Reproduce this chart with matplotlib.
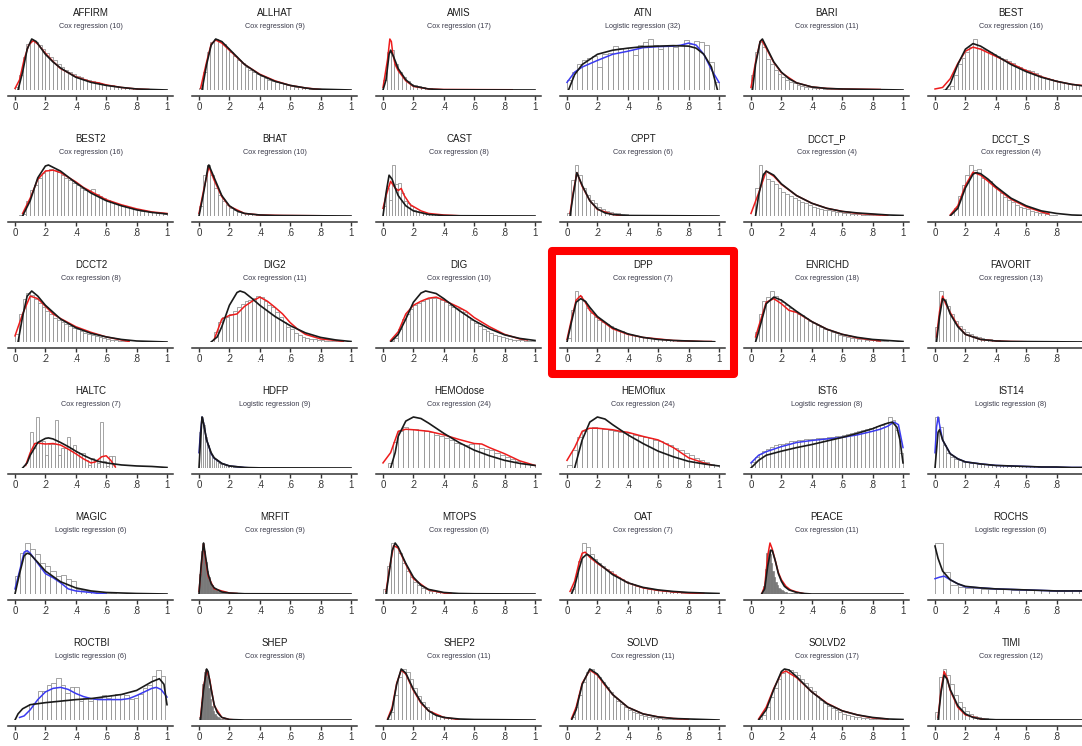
import matplotlib.pyplot as plt
from matplotlib.patches import Rectangle

plt.rcParams['font.family'] = ['Liberation Sans', 'DejaVu Sans']

# ---- data: histogram heights (0-100 of panel max) and curve knots (x, height) ----
AFFIRM_bars = [5, 30, 65, 90, 97, 95, 88, 80, 72, 65, 58, 50, 45, 40, 35, 31, 28, 25, 22, 20,
               18, 16, 14, 12, 10, 9, 7, 6, 5, 4, 3, 3, 2, 2, 2, 1, 1, 0, 0, 0]
AFFIRM_black = [(0.02, 0), (0.05, 35), (0.08, 80), (0.11, 100), (0.14, 95), (0.2, 70), (0.25, 55),
                (0.3, 43), (0.4, 25), (0.5, 15), (0.6, 9), (0.7, 5), (0.8, 2), (0.9, 1), (1.0, 0)]
AFFIRM_fit = [(0.0, 3), (0.03, 20), (0.06, 60), (0.09, 88), (0.12, 97), (0.15, 90), (0.2, 72),
              (0.25, 56), (0.3, 42), (0.4, 26), (0.5, 16), (0.55, 14), (0.6, 10), (0.7, 5),
              (0.8, 2), (0.88, 1)]

ALLHAT_bars = [3, 35, 75, 95, 100, 96, 90, 82, 74, 66, 58, 52, 46, 40, 35, 31, 27, 23, 20, 17,
               15, 13, 11, 9, 7, 6, 5, 4, 3, 2, 2, 1]
ALLHAT_black = [(0.02, 0), (0.05, 50), (0.08, 88), (0.11, 100), (0.15, 95), (0.2, 80), (0.3, 50),
                (0.4, 30), (0.5, 17), (0.6, 9), (0.7, 4), (0.75, 2), (1.0, 0)]
ALLHAT_fit = [(0.01, 3), (0.05, 55), (0.08, 90), (0.11, 98), (0.15, 92), (0.2, 78), (0.3, 50),
              (0.4, 31), (0.5, 18), (0.6, 9), (0.7, 4), (0.8, 1)]

AMIS_bars = [20, 75, 78, 50, 35, 25, 17, 12, 9, 7, 5, 4, 3, 2, 2, 1, 1]
AMIS_black = [(0.0, 0), (0.02, 20), (0.04, 70), (0.05, 78), (0.07, 65), (0.1, 42), (0.15, 20),
              (0.2, 8), (0.3, 2), (0.4, 0.5), (1.0, 0)]
AMIS_fit = [(0.0, 5), (0.03, 60), (0.045, 100), (0.055, 95), (0.065, 70), (0.08, 50), (0.1, 38),
            (0.15, 18), (0.2, 7), (0.3, 2), (0.4, 1), (0.85, 0.5)]

ATN_bars = [20, 35, 50, 58, 62, 66, 45, 70, 72, 86, 83, 82, 78, 68, 88, 95, 100, 88, 80, 86,
            86, 84, 88, 98, 90, 96, 94, 88, 55, 15]
ATN_black = [(0.01, 0), (0.05, 30), (0.1, 50), (0.2, 70), (0.3, 78), (0.4, 82), (0.5, 85),
             (0.6, 86), (0.7, 87), (0.8, 86), (0.85, 82), (0.9, 70), (0.95, 45), (0.99, 0)]
ATN_fit = [(0.0, 15), (0.05, 35), (0.1, 45), (0.2, 58), (0.3, 70), (0.4, 76), (0.5, 83),
           (0.6, 85), (0.7, 86), (0.75, 88), (0.8, 92), (0.85, 88), (0.9, 70), (0.95, 40), (1.0, 15)]

BARI_bars = [30, 75, 95, 85, 60, 50, 40, 32, 25, 20, 15, 13, 10, 8, 6, 5, 4, 3, 3, 2, 2, 2, 1, 1]
BARI_black = [(0.01, 0), (0.03, 50), (0.06, 95), (0.075, 100), (0.1, 85), (0.15, 55), (0.2, 35),
              (0.25, 22), (0.3, 14), (0.4, 6), (0.5, 3), (0.6, 2), (0.8, 1), (1.0, 0)]
BARI_fit = [(0.0, 5), (0.03, 55), (0.06, 95), (0.07, 98), (0.1, 82), (0.15, 54), (0.2, 34),
            (0.3, 14), (0.4, 6), (0.5, 3), (0.6, 2), (0.85, 1)]

BEST_bars = [0, 0, 1, 2, 8, 30, 50, 62, 75, 85, 100, 82, 80, 78, 74, 70, 66, 63, 60, 56,
             52, 48, 45, 42, 40, 38, 34, 30, 26, 24, 21, 20, 18, 15, 14, 12, 11, 10, 9, 8]
BEST_black = [(0.07, 0), (0.1, 12), (0.15, 50), (0.2, 80), (0.25, 91), (0.3, 86), (0.4, 68),
              (0.5, 50), (0.6, 36), (0.7, 25), (0.8, 17), (0.9, 11), (1.0, 7)]
BEST_fit = [(0.0, 2), (0.05, 5), (0.1, 22), (0.15, 52), (0.2, 76), (0.25, 84), (0.3, 80),
            (0.4, 66), (0.5, 52), (0.6, 38), (0.7, 26), (0.8, 17), (0.9, 11), (1.0, 8)]

BEST2_bars = [0, 1, 3, 30, 50, 60, 75, 85, 90, 92, 90, 86, 80, 75, 70, 65, 60, 55, 50, 50,
              53, 44, 40, 36, 32, 28, 25, 22, 20, 18, 16, 14, 12, 10, 9, 8, 7, 6, 5, 4]
BEST2_black = [(0.05, 0), (0.1, 30), (0.15, 75), (0.2, 98), (0.22, 100), (0.3, 88), (0.4, 65),
               (0.5, 45), (0.6, 30), (0.7, 20), (0.8, 12), (0.9, 7), (1.0, 4)]
BEST2_fit = [(0.05, 5), (0.1, 35), (0.15, 72), (0.2, 88), (0.25, 90), (0.3, 85), (0.4, 67),
             (0.45, 56), (0.5, 48), (0.6, 32), (0.7, 22), (0.8, 14), (0.9, 8), (1.0, 5)]

BHAT_bars = [20, 80, 100, 80, 55, 42, 30, 22, 15, 11, 8, 6, 5, 4, 3, 2, 2, 1, 1, 1]
BHAT_black = [(0.0, 0), (0.03, 45), (0.06, 98), (0.065, 100), (0.1, 75), (0.15, 40), (0.2, 20),
              (0.25, 10), (0.3, 5), (0.4, 2), (0.5, 1), (1.0, 0)]
BHAT_fit = [(0.0, 5), (0.03, 50), (0.065, 97), (0.1, 70), (0.15, 38), (0.2, 19), (0.3, 5),
            (0.4, 2), (0.55, 1), (0.8, 0.5)]

CAST_bars = [20, 55, 32, 100, 62, 65, 45, 30, 25, 20, 12, 10, 8, 6, 5, 4, 3, 3, 2, 2, 1, 1, 1,
             1, 1, 1, 1]
CAST_black = [(0.0, 0), (0.02, 45), (0.04, 80), (0.06, 72), (0.08, 55), (0.1, 40), (0.15, 20),
              (0.2, 10), (0.3, 3), (0.4, 1), (0.5, 0.5), (1.0, 0)]
CAST_fit = [(0.0, 15), (0.02, 40), (0.05, 68), (0.08, 55), (0.1, 50), (0.12, 54), (0.14, 40),
            (0.18, 22), (0.25, 10), (0.3, 5), (0.4, 2), (0.54, 0)]

CPPT_bars = [5, 70, 100, 80, 55, 42, 32, 25, 18, 14, 10, 8, 6, 5, 4, 3, 2, 2, 1, 1]
CPPT_black = [(0.02, 0), (0.04, 40), (0.065, 85), (0.1, 60), (0.15, 30), (0.2, 14), (0.25, 6),
              (0.3, 3), (0.4, 1), (1.0, 0)]
CPPT_fit = [(0.02, 5), (0.04, 45), (0.065, 85), (0.1, 58), (0.15, 30), (0.2, 13), (0.3, 3),
            (0.37, 0)]

DCCT_P_bars = [0, 55, 100, 85, 72, 68, 62, 55, 48, 44, 40, 35, 32, 28, 25, 22, 18, 16, 14, 12,
               11, 9, 8, 7, 6, 5, 4, 3, 3, 2, 2, 2, 1, 1]
DCCT_P_black = [(0.03, 0), (0.05, 40), (0.08, 80), (0.1, 88), (0.15, 80), (0.2, 63), (0.3, 40),
                (0.4, 25), (0.5, 15), (0.6, 9), (0.7, 6), (0.8, 4), (0.9, 2), (1.0, 1)]
DCCT_P_fit = [(0.0, 5), (0.05, 45), (0.1, 88), (0.15, 78), (0.2, 62), (0.3, 40), (0.4, 25),
              (0.5, 15), (0.6, 9), (0.7, 5), (0.8, 3), (0.9, 1)]

DCCT_S_bars = [0, 0, 0, 0, 0, 15, 40, 60, 80, 100, 90, 92, 75, 72, 68, 58, 52, 45, 38, 32,
               28, 22, 18, 15, 14, 10, 8, 6, 5, 3, 2, 2]
DCCT_S_black = [(0.1, 0), (0.15, 15), (0.2, 55), (0.25, 82), (0.27, 85), (0.3, 83), (0.35, 72),
                (0.4, 58), (0.5, 35), (0.6, 20), (0.7, 10), (0.8, 5), (0.9, 2), (1.0, 1)]
DCCT_S_fit = [(0.1, 2), (0.15, 20), (0.2, 60), (0.25, 86), (0.3, 80), (0.35, 68), (0.4, 55),
              (0.5, 33), (0.6, 18), (0.7, 8), (0.75, 4)]

DCCT2_bars = [15, 55, 85, 97, 92, 85, 76, 68, 60, 54, 48, 44, 40, 35, 31, 28, 25, 21, 18, 15,
              13, 11, 9, 7, 5, 4, 3, 2, 2, 1]
DCCT2_black = [(0.02, 0), (0.05, 50), (0.08, 90), (0.11, 100), (0.15, 90), (0.2, 72), (0.3, 45),
               (0.4, 28), (0.5, 17), (0.6, 10), (0.7, 5), (0.8, 2), (0.9, 1), (1.0, 0)]
DCCT2_fit = [(0.0, 12), (0.05, 55), (0.1, 90), (0.15, 85), (0.2, 70), (0.25, 55), (0.3, 46),
             (0.4, 30), (0.5, 19), (0.6, 10), (0.7, 4), (0.75, 1)]

DIG2_bars = [0, 0, 0, 0, 20, 40, 50, 50, 55, 60, 68, 75, 80, 82, 87, 90, 88, 80, 72, 68,
             58, 50, 40, 30, 25, 18, 14, 10, 8, 6, 5, 4, 3, 2, 2, 1, 1, 1]
DIG2_black = [(0.08, 0), (0.12, 10), (0.15, 30), (0.2, 72), (0.25, 97), (0.27, 100), (0.3, 97),
              (0.35, 85), (0.4, 72), (0.5, 50), (0.6, 32), (0.7, 18), (0.8, 9), (0.9, 4), (1.0, 1)]
DIG2_fit = [(0.1, 5), (0.15, 45), (0.2, 52), (0.25, 55), (0.3, 70), (0.35, 80), (0.4, 88),
            (0.45, 80), (0.5, 68), (0.55, 55), (0.6, 38), (0.65, 25), (0.7, 15), (0.8, 6),
            (0.9, 3), (0.95, 1)]

DIG_bars = [0, 0, 2, 8, 25, 45, 55, 65, 72, 76, 80, 84, 86, 87, 86, 83, 78, 73, 68, 66,
            64, 58, 50, 44, 38, 32, 26, 22, 18, 14, 11, 9, 7, 5, 4, 3, 3, 2, 2, 1]
DIG_black = [(0.05, 0), (0.1, 15), (0.15, 45), (0.2, 78), (0.25, 96), (0.28, 100), (0.35, 95),
             (0.4, 85), (0.5, 62), (0.6, 42), (0.7, 26), (0.8, 14), (0.9, 7), (1.0, 3)]
DIG_fit = [(0.05, 3), (0.1, 20), (0.15, 55), (0.2, 72), (0.25, 80), (0.3, 86), (0.35, 88),
           (0.4, 82), (0.45, 75), (0.5, 68), (0.55, 60), (0.6, 48), (0.7, 30), (0.8, 15),
           (0.9, 6), (0.95, 4)]

DPP_bars = [8, 62, 100, 90, 80, 66, 56, 50, 44, 40, 35, 32, 28, 24, 21, 18, 16, 14, 12, 10,
            9, 8, 7, 6, 5, 5, 4, 3, 3, 2, 2, 2, 1, 1, 1, 1, 1, 1, 1, 0]
DPP_black = [(0.0, 0), (0.03, 40), (0.06, 78), (0.09, 85), (0.12, 80), (0.15, 68), (0.2, 50),
             (0.3, 28), (0.4, 16), (0.5, 9), (0.6, 5), (0.7, 3), (0.8, 2), (0.9, 1), (0.97, 0.5)]
DPP_fit = [(0.0, 5), (0.03, 45), (0.06, 82), (0.09, 91), (0.12, 78), (0.15, 62), (0.2, 48),
           (0.3, 26), (0.4, 15), (0.5, 9), (0.6, 6), (0.7, 3), (0.8, 2), (0.9, 1), (0.95, 1)]

ENRICHD_bars = [0, 20, 55, 80, 88, 100, 90, 85, 78, 72, 66, 60, 55, 52, 48, 42, 38, 33, 29, 26,
                23, 20, 17, 14, 12, 10, 8, 7, 6, 5, 4, 3, 3, 2, 2, 1]
ENRICHD_black = [(0.03, 0), (0.05, 20), (0.1, 75), (0.15, 88), (0.2, 82), (0.3, 60), (0.4, 40),
                 (0.5, 25), (0.6, 15), (0.7, 9), (0.8, 5), (0.9, 3), (1.0, 1)]
ENRICHD_fit = [(0.03, 10), (0.05, 30), (0.1, 78), (0.15, 85), (0.2, 75), (0.25, 62), (0.3, 58),
               (0.4, 40), (0.5, 25), (0.6, 15), (0.7, 8), (0.8, 4), (0.85, 2)]

FAVORIT_bars = [30, 100, 85, 70, 55, 42, 32, 25, 20, 15, 12, 9, 7, 6, 5, 4, 3, 2, 2, 1, 1, 1]
FAVORIT_black = [(0.01, 0), (0.03, 50), (0.05, 85), (0.07, 80), (0.1, 55), (0.15, 30), (0.2, 15),
                 (0.3, 5), (0.4, 2), (0.5, 1), (1.0, 0)]
FAVORIT_fit = [(0.01, 10), (0.03, 60), (0.05, 90), (0.07, 75), (0.1, 58), (0.15, 32), (0.2, 15),
               (0.3, 5), (0.4, 2), (0.5, 1), (0.6, 0.5)]

HALTC_bars = [71, 40, 100, 52, 52, 26, 48, 48, 94, 26, 39, 39, 61, 39, 45, 32, 29, 30, 16, 6,
              19, 13, 10, 91, 13, 3, 23, 23]
HALTC_black = [(0.05, 0), (0.08, 10), (0.1, 25), (0.15, 50), (0.2, 58), (0.22, 59), (0.25, 57),
               (0.3, 50), (0.35, 42), (0.4, 33), (0.45, 25), (0.5, 18), (0.55, 13), (0.6, 10),
               (0.7, 6), (0.8, 4), (0.9, 3), (1.0, 1)]
HALTC_fit = [(0.07, 5), (0.1, 30), (0.13, 48), (0.15, 49), (0.2, 47), (0.25, 48), (0.3, 45),
             (0.35, 37), (0.4, 28), (0.45, 18), (0.5, 10), (0.53, 12), (0.57, 22), (0.6, 24),
             (0.63, 15), (0.66, 2)]

HDFP_bars = [70, 100, 85, 60, 45, 35, 28, 22, 17, 13, 10, 8, 7, 6, 5, 4, 3, 3, 2, 2, 2, 1, 1,
             1, 1, 1]
HDFP_black = [(0.0, 0), (0.01, 55), (0.02, 100), (0.03, 88), (0.05, 55), (0.08, 30), (0.1, 20),
              (0.15, 9), (0.2, 4), (0.3, 1), (0.4, 0.3), (1.0, 0)]
HDFP_fit = [(0.0, 30), (0.01, 70), (0.02, 100), (0.03, 88), (0.05, 55), (0.08, 28), (0.1, 19),
            (0.15, 9), (0.2, 4), (0.3, 1), (0.35, 0)]

HEMOdose_bars = [0, 10, 51, 73, 80, 76, 76, 74, 72, 70, 65, 62, 58, 54, 50, 48, 46, 48, 50, 40,
                 38, 35, 30, 25, 22, 18, 14, 10, 8, 6]
HEMOdose_black = [(0.05, 0), (0.08, 30), (0.1, 62), (0.15, 92), (0.2, 100), (0.25, 97),
                  (0.3, 88), (0.4, 68), (0.5, 50), (0.6, 35), (0.7, 24), (0.8, 15), (0.9, 9),
                  (1.0, 5)]
HEMOdose_fit = [(0.0, 10), (0.05, 30), (0.1, 72), (0.15, 76), (0.2, 75), (0.3, 72), (0.4, 65),
                (0.5, 56), (0.6, 48), (0.65, 47), (0.7, 40), (0.8, 28), (0.9, 14), (1.0, 5)]

HEMOflux_bars = [5, 35, 60, 72, 78, 80, 78, 76, 74, 72, 70, 68, 68, 65, 62, 60, 58, 55, 52, 50,
                 45, 40, 35, 30, 25, 20, 15, 12, 8, 5]
HEMOflux_black = [(0.05, 0), (0.1, 55), (0.15, 90), (0.2, 100), (0.25, 96), (0.3, 85), (0.4, 65),
                  (0.5, 48), (0.6, 33), (0.7, 22), (0.8, 13), (0.9, 8), (1.0, 4)]
HEMOflux_fit = [(0.0, 15), (0.05, 40), (0.1, 72), (0.15, 78), (0.2, 78), (0.3, 75), (0.35, 72),
                (0.4, 70), (0.5, 62), (0.6, 55), (0.7, 40), (0.75, 30), (0.8, 20), (0.9, 10),
                (0.95, 6)]

IST6_bars = [12, 22, 28, 33, 38, 42, 45, 47, 48, 50, 52, 53, 54, 55, 56, 57, 57, 58, 58, 59,
             60, 61, 62, 63, 64, 66, 68, 70, 72, 74, 76, 78, 80, 82, 85, 88, 100, 95, 75, 30]
IST6_black = [(0.0, 0), (0.05, 15), (0.1, 25), (0.2, 33), (0.3, 40), (0.4, 46), (0.5, 53),
              (0.6, 60), (0.7, 68), (0.8, 77), (0.85, 83), (0.9, 88), (0.93, 90), (0.96, 80),
              (0.98, 55), (1.0, 10)]
IST6_fit = [(0.0, 10), (0.05, 25), (0.1, 32), (0.2, 42), (0.3, 50), (0.4, 54), (0.5, 57),
            (0.6, 60), (0.7, 65), (0.8, 72), (0.85, 76), (0.9, 82), (0.94, 90), (0.97, 85),
            (1.0, 40)]

IST14_bars = [100, 80, 45, 30, 22, 18, 15, 12, 11, 10, 9, 8, 7, 7, 6, 6, 5, 5, 5, 4,
              4, 4, 3, 3, 3, 3, 3, 2, 2, 2, 2, 2, 2, 2, 2, 1, 1, 1, 1, 1]
IST14_black = [(0.0, 0), (0.02, 70), (0.03, 75), (0.05, 55), (0.1, 28), (0.15, 18), (0.2, 12),
               (0.3, 8), (0.4, 5), (0.5, 4), (0.6, 3), (0.7, 2), (0.8, 2), (0.9, 1), (1.0, 1)]
IST14_fit = [(0.0, 30), (0.01, 80), (0.02, 100), (0.03, 85), (0.05, 55), (0.1, 28), (0.15, 18),
             (0.2, 12), (0.3, 8), (0.4, 5), (0.5, 4), (0.7, 2), (0.9, 1), (1.0, 1)]

MAGIC_bars = [35, 80, 100, 88, 78, 60, 55, 45, 35, 38, 30, 25, 10, 8, 5, 3, 3, 2, 1, 1]
MAGIC_black = [(0.0, 0), (0.03, 40), (0.06, 75), (0.08, 80), (0.1, 78), (0.15, 62), (0.2, 45),
               (0.3, 24), (0.4, 12), (0.5, 6), (0.6, 3), (0.7, 2), (0.8, 1), (1.0, 0)]
MAGIC_fit = [(0.0, 10), (0.03, 45), (0.06, 82), (0.08, 85), (0.1, 80), (0.15, 60), (0.2, 40),
             (0.25, 32), (0.3, 22), (0.35, 10), (0.4, 6), (0.5, 3), (0.55, 1), (0.6, 0)]

MRFIT_bars = [40, 85, 100, 85, 62, 45, 33, 24, 17, 13, 10, 7, 6, 5, 4, 3, 3, 2, 2, 1, 1, 1, 1,
              1, 0.5]
MRFIT_black = [(0.0, 0), (0.015, 60), (0.03, 100), (0.04, 80), (0.06, 40), (0.08, 20),
               (0.1, 12), (0.15, 4), (0.2, 2), (0.3, 0.5), (1.0, 0)]
MRFIT_fit = [(0.0, 5), (0.02, 70), (0.03, 98), (0.04, 75), (0.06, 35), (0.1, 10), (0.2, 2),
             (0.25, 1)]

MTOPS_bars = [10, 55, 100, 95, 80, 60, 45, 33, 24, 17, 12, 9, 6, 5, 4, 3, 2, 2, 1, 1, 1]
MTOPS_black = [(0.02, 0), (0.04, 40), (0.06, 85), (0.08, 100), (0.1, 92), (0.15, 60), (0.2, 33),
               (0.25, 17), (0.3, 9), (0.4, 3), (0.5, 1), (0.6, 0.5), (1.0, 0)]
MTOPS_fit = [(0.02, 5), (0.04, 45), (0.07, 95), (0.1, 90), (0.15, 58), (0.2, 30), (0.3, 8),
             (0.4, 2), (0.45, 1)]

OAT_bars = [0, 10, 35, 65, 100, 92, 78, 68, 60, 55, 50, 45, 40, 34, 30, 26, 22, 19, 16, 14,
            12, 10, 9, 8, 7, 6, 5, 4, 3, 3, 2, 2, 2, 1, 1, 1, 1, 1]
OAT_black = [(0.03, 0), (0.05, 15), (0.08, 50), (0.1, 70), (0.13, 78), (0.15, 75), (0.2, 62),
             (0.3, 38), (0.4, 22), (0.5, 13), (0.6, 8), (0.7, 5), (0.8, 3), (0.9, 2), (1.0, 1)]
OAT_fit = [(0.02, 5), (0.05, 25), (0.08, 62), (0.1, 80), (0.12, 82), (0.15, 72), (0.2, 60),
           (0.3, 40), (0.4, 22), (0.5, 12), (0.6, 7), (0.7, 4), (0.8, 2), (0.9, 1)]

PEACE_bars = [2, 15, 50, 80, 86, 78, 60, 45, 33, 24, 17, 12, 9, 7, 5, 4, 3, 2, 2, 1, 1, 1, 1,
              0.5, 0.5, 0.5]
PEACE_black = [(0.07, 0), (0.09, 10), (0.11, 55), (0.13, 86), (0.14, 85), (0.16, 65),
               (0.18, 40), (0.2, 25), (0.22, 15), (0.25, 8), (0.3, 3), (0.35, 1), (0.4, 0),
               (1.0, 0)]
PEACE_fit = [(0.07, 0), (0.09, 15), (0.11, 75), (0.125, 100), (0.14, 88), (0.16, 65),
             (0.18, 42), (0.2, 28), (0.23, 15), (0.26, 8), (0.3, 4), (0.33, 2), (0.36, 0)]

ROCHS_bars = [100, 43, 18, 14, 12, 11, 10, 10, 9, 9, 8, 8, 8, 7, 7, 6, 6, 5, 8, 5]
ROCHS_black = [(0.0, 94), (0.02, 70), (0.05, 45), (0.1, 28), (0.15, 20), (0.2, 15), (0.3, 12),
               (0.4, 10), (0.5, 9), (0.6, 8), (0.7, 7), (0.8, 6), (0.9, 6), (1.0, 6)]
ROCHS_fit = [(0.0, 30), (0.03, 33), (0.06, 35), (0.1, 28), (0.15, 20), (0.2, 14), (0.3, 12),
             (0.4, 10), (0.5, 9), (0.6, 8), (0.7, 7), (0.8, 6), (0.9, 6), (0.97, 6)]

ROCTBI_bars = [31, 34, 57, 57, 69, 72, 82, 69, 53, 64, 64, 37, 44, 37, 42, 44, 50, 44, 50, 51,
               51, 50, 41, 44, 51, 62, 69, 87, 99, 87]
ROCTBI_black = [(0.0, 0), (0.02, 12), (0.05, 22), (0.1, 30), (0.2, 34), (0.3, 37), (0.4, 40),
                (0.5, 42), (0.6, 46), (0.7, 50), (0.8, 58), (0.9, 75), (0.95, 81), (0.98, 70),
                (1.0, 30)]
ROCTBI_fit = [(0.03, 5), (0.06, 8), (0.1, 20), (0.15, 40), (0.2, 55), (0.25, 62), (0.3, 64),
              (0.35, 60), (0.4, 52), (0.45, 46), (0.5, 42), (0.55, 40), (0.6, 40), (0.7, 40),
              (0.75, 42), (0.8, 48), (0.85, 55), (0.9, 62), (0.93, 64), (0.96, 60), (1.0, 45)]

SHEP_bars = [5, 35, 70, 95, 100, 85, 62, 42, 28, 18, 12, 8, 5, 3, 2, 1, 1, 1, 0.5, 0.5]
SHEP_black = [(0.01, 0), (0.03, 60), (0.05, 100), (0.06, 95), (0.08, 60), (0.1, 30), (0.12, 15),
              (0.15, 5), (0.2, 1), (0.3, 0), (1.0, 0)]
SHEP_fit = [(0.01, 5), (0.03, 65), (0.05, 98), (0.07, 80), (0.1, 28), (0.15, 5), (0.2, 1),
            (0.25, 0)]

SHEP2_bars = [0, 2, 15, 50, 85, 100, 95, 80, 62, 48, 35, 25, 18, 12, 9, 7, 5, 4, 3, 2, 2, 1, 1, 1]
SHEP2_black = [(0.03, 0), (0.06, 20), (0.09, 70), (0.12, 100), (0.15, 92), (0.2, 60), (0.25, 35),
               (0.3, 18), (0.35, 9), (0.4, 5), (0.5, 2), (0.6, 1), (1.0, 0)]
SHEP2_fit = [(0.03, 2), (0.06, 25), (0.09, 72), (0.12, 98), (0.15, 90), (0.2, 58), (0.25, 33),
             (0.3, 18), (0.4, 5), (0.5, 1)]

SOLVD_bars = [0, 5, 25, 50, 75, 95, 100, 92, 85, 75, 65, 55, 46, 38, 31, 25, 20, 16, 13, 10,
              8, 6, 5, 4, 3, 2, 2, 1, 1, 1]
SOLVD_black = [(0.03, 0), (0.06, 20), (0.1, 70), (0.15, 100), (0.2, 90), (0.25, 70), (0.3, 50),
               (0.4, 25), (0.5, 12), (0.6, 6), (0.7, 3), (0.8, 2), (0.9, 1), (1.0, 0)]
SOLVD_fit = [(0.03, 3), (0.06, 25), (0.1, 72), (0.15, 98), (0.2, 88), (0.25, 68), (0.3, 50),
             (0.4, 25), (0.5, 12), (0.6, 6), (0.7, 3), (0.8, 1)]

SOLVD2_bars = [0, 0, 2, 10, 25, 45, 62, 80, 92, 100, 98, 94, 88, 80, 72, 64, 56, 48, 40, 34,
               28, 23, 19, 15, 12, 10, 8, 6, 5, 4, 3, 2, 2, 1, 1, 1]
SOLVD2_black = [(0.05, 0), (0.1, 20), (0.15, 60), (0.2, 95), (0.22, 100), (0.25, 98), (0.3, 85),
                (0.4, 55), (0.5, 32), (0.6, 18), (0.7, 10), (0.8, 5), (0.9, 2), (1.0, 1)]
SOLVD2_fit = [(0.05, 2), (0.1, 25), (0.15, 62), (0.2, 92), (0.23, 96), (0.3, 83), (0.4, 55),
              (0.5, 33), (0.6, 18), (0.7, 10), (0.8, 4), (0.9, 2)]

TIMI_bars = [15, 85, 100, 88, 70, 50, 35, 25, 17, 12, 8, 6, 4, 3, 2, 2, 1, 1, 1]
TIMI_black = [(0.02, 0), (0.04, 55), (0.06, 88), (0.08, 80), (0.1, 60), (0.15, 28), (0.2, 12),
              (0.25, 5), (0.3, 2), (0.4, 0.5), (1.0, 0)]
TIMI_fit = [(0.02, 5), (0.04, 60), (0.06, 95), (0.08, 82), (0.1, 58), (0.15, 25), (0.2, 10),
            (0.3, 2), (0.35, 0)]

panels = [
    ('AFFIRM', 'Cox regression (10)', AFFIRM_bars, AFFIRM_black, AFFIRM_fit),
    ('ALLHAT', 'Cox regression (9)', ALLHAT_bars, ALLHAT_black, ALLHAT_fit),
    ('AMIS', 'Cox regression (17)', AMIS_bars, AMIS_black, AMIS_fit),
    ('ATN', 'Logistic regression (32)', ATN_bars, ATN_black, ATN_fit),
    ('BARI', 'Cox regression (11)', BARI_bars, BARI_black, BARI_fit),
    ('BEST', 'Cox regression (16)', BEST_bars, BEST_black, BEST_fit),
    ('BEST2', 'Cox regression (16)', BEST2_bars, BEST2_black, BEST2_fit),
    ('BHAT', 'Cox regression (10)', BHAT_bars, BHAT_black, BHAT_fit),
    ('CAST', 'Cox regression (8)', CAST_bars, CAST_black, CAST_fit),
    ('CPPT', 'Cox regression (6)', CPPT_bars, CPPT_black, CPPT_fit),
    ('DCCT_P', 'Cox regression (4)', DCCT_P_bars, DCCT_P_black, DCCT_P_fit),
    ('DCCT_S', 'Cox regression (4)', DCCT_S_bars, DCCT_S_black, DCCT_S_fit),
    ('DCCT2', 'Cox regression (8)', DCCT2_bars, DCCT2_black, DCCT2_fit),
    ('DIG2', 'Cox regression (11)', DIG2_bars, DIG2_black, DIG2_fit),
    ('DIG', 'Cox regression (10)', DIG_bars, DIG_black, DIG_fit),
    ('DPP', 'Cox regression (7)', DPP_bars, DPP_black, DPP_fit),
    ('ENRICHD', 'Cox regression (18)', ENRICHD_bars, ENRICHD_black, ENRICHD_fit),
    ('FAVORIT', 'Cox regression (13)', FAVORIT_bars, FAVORIT_black, FAVORIT_fit),
    ('HALTC', 'Cox regression (7)', HALTC_bars, HALTC_black, HALTC_fit),
    ('HDFP', 'Logistic regression (9)', HDFP_bars, HDFP_black, HDFP_fit),
    ('HEMOdose', 'Cox regression (24)', HEMOdose_bars, HEMOdose_black, HEMOdose_fit),
    ('HEMOflux', 'Cox regression (24)', HEMOflux_bars, HEMOflux_black, HEMOflux_fit),
    ('IST6', 'Logistic regression (8)', IST6_bars, IST6_black, IST6_fit),
    ('IST14', 'Logistic regression (8)', IST14_bars, IST14_black, IST14_fit),
    ('MAGIC', 'Logistic regression (6)', MAGIC_bars, MAGIC_black, MAGIC_fit),
    ('MRFIT', 'Cox regression (9)', MRFIT_bars, MRFIT_black, MRFIT_fit),
    ('MTOPS', 'Cox regression (6)', MTOPS_bars, MTOPS_black, MTOPS_fit),
    ('OAT', 'Cox regression (7)', OAT_bars, OAT_black, OAT_fit),
    ('PEACE', 'Cox regression (11)', PEACE_bars, PEACE_black, PEACE_fit),
    ('ROCHS', 'Logistic regression (6)', ROCHS_bars, ROCHS_black, ROCHS_fit),
    ('ROCTBI', 'Logistic regression (6)', ROCTBI_bars, ROCTBI_black, ROCTBI_fit),
    ('SHEP', 'Cox regression (8)', SHEP_bars, SHEP_black, SHEP_fit),
    ('SHEP2', 'Cox regression (11)', SHEP2_bars, SHEP2_black, SHEP2_fit),
    ('SOLVD', 'Cox regression (11)', SOLVD_bars, SOLVD_black, SOLVD_fit),
    ('SOLVD2', 'Cox regression (17)', SOLVD2_bars, SOLVD2_black, SOLVD2_fit),
    ('TIMI', 'Cox regression (12)', TIMI_bars, TIMI_black, TIMI_fit),
]

# histogram bins (start, width); default is 0 / 0.025
bin_start = {'HALTC': 0.1, 'PEACE': 0.07, 'ROCTBI': 0.09}
bin_width = {'ATN': 1 / 30, 'CAST': 0.02, 'HALTC': 0.02, 'HDFP': 0.0125, 'HEMOdose': 1 / 30,
             'HEMOflux': 1 / 30, 'MAGIC': 1 / 30, 'MRFIT': 0.01, 'PEACE': 0.01,
             'ROCHS': 0.05, 'ROCTBI': 0.03, 'SHEP': 0.01}
filled = {'MRFIT', 'PEACE', 'SHEP'}
highlight = 'DPP'

tick_pos = [0, 0.2, 0.4, 0.6, 0.8, 1]
tick_lab = ['0', '.2', '.4', '.6', '.8', '1']

# ---- layout in pixels ----
W, H = 1082, 746
fig = plt.figure(figsize=(W / 100, H / 100), dpi=100)
col_step, row_step = 184, 126
x_unit = 152          # pixels per data unit
x_lo, x_hi = -0.045, 1.04

for i, (name, sub, bars, black, fit) in enumerate(panels):
    r, c = divmod(i, 6)
    x0 = 15 + col_step * c
    t = 13 + row_step * r
    ax = fig.add_axes([(x0 + x_lo * x_unit) / W, 1 - (t + 77) / H,
                       (x_hi - x_lo) * x_unit / W, 53 / H])
    ax.set_xlim(x_lo, x_hi)
    ax.set_ylim(0, 100 * 53 / 51)

    start = bin_start.get(name, 0.0)
    width = bin_width.get(name, 0.025)
    lefts = [start + k * width for k in range(len(bars))]
    if name in filled:
        ax.bar(lefts, bars, width=width, align='edge', color='#7c7c7c',
               edgecolor='#707070', linewidth=0.4, zorder=1)
    else:
        ax.bar(lefts, bars, width=width, align='edge', color='white',
               edgecolor='#8c8c8c', linewidth=0.55, zorder=1)
    ax.plot([0, 1], [0, 0], color='#808080', lw=0.7, zorder=1)

    if sub.startswith('Logistic'):
        fit_color = '#1c1c8a' if name == 'HDFP' else '#3a3af0'
    else:
        fit_color = '#ee1c1c'
    ax.plot([p[0] for p in fit], [p[1] for p in fit], color=fit_color, lw=1.1, zorder=2)
    ax.plot([p[0] for p in black], [p[1] for p in black], color='#1a1a1a', lw=1.2, zorder=3)

    for s in ('left', 'right', 'top'):
        ax.spines[s].set_visible(False)
    ax.spines['bottom'].set_position(('outward', 4.3))
    ax.spines['bottom'].set_color('#333333')
    ax.spines['bottom'].set_linewidth(1.1)
    ax.set_yticks([])
    # the last column runs past the right edge of the picture, so its "1" is not shown
    if c == 5:
        ax.set_xticks(tick_pos[:-1])
        ax.set_xticklabels(tick_lab[:-1])
    else:
        ax.set_xticks(tick_pos)
        ax.set_xticklabels(tick_lab)
    ax.tick_params(axis='x', length=3, width=1.0, pad=1.2, labelsize=7,
                   color='#333333', labelcolor='#333333')
    ax.patch.set_visible(False)

    fig.text((x0 + 0.5 * x_unit) / W, 1 - t / H, name, ha='center', va='center',
             fontsize=7, color='#1a1a1a')
    fig.text((x0 + 0.5 * x_unit) / W, 1 - (t + 13) / H, sub, ha='center', va='center',
             fontsize=5.2, color='#3a3a4a')

    if name == highlight:
        fig.patches.append(Rectangle(((x0 - 15) / W, 1 - (t + 109) / H),
                                     182 / W, 123 / H, transform=fig.transFigure,
                                     fill=False, edgecolor='#ff0000', linewidth=5.8,
                                     joinstyle='round'))

fig.savefig('out.png', dpi=100)
